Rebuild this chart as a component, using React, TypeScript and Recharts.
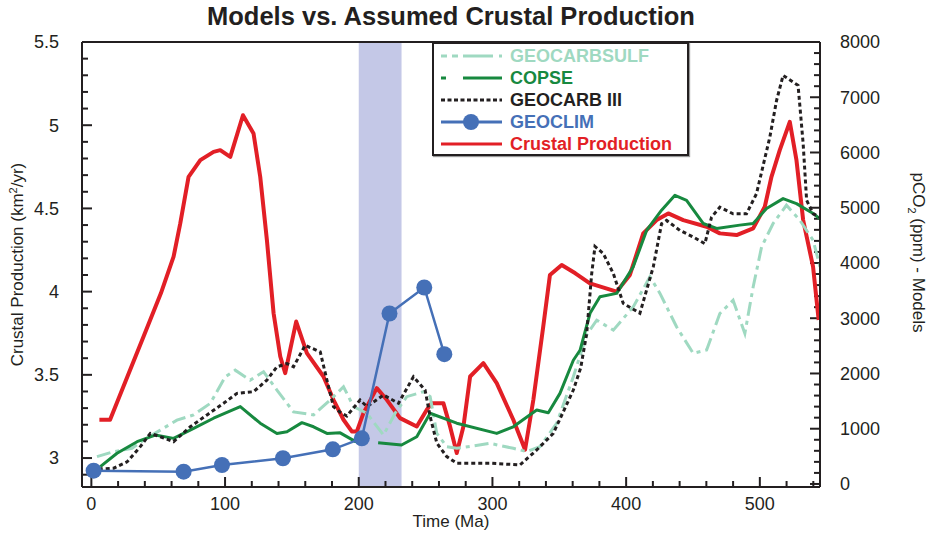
import React from 'react';
import { LineChart, Line, XAxis, YAxis, ReferenceArea, ReferenceLine, Legend, Label } from 'recharts';

const FONT = '"Liberation Sans", Arial, Helvetica, sans-serif';
const INK = '#231f20';
const RED = '#e21f26';
const GREEN = '#17893f';
const MINT = '#9fd9c1';
const BLACK = '#231f20';
const BLUE = '#4570b7';

type P = [number, number | null];

// Time (Ma) vs crustal production (km^2/yr) — left axis
const crustalProduction: P[] = [
  [6, 3.23], [14, 3.23], [27, 3.49], [38, 3.71], [52, 3.99], [61.5, 4.21], [66.5, 4.41], [72.7, 4.69],
  [81.5, 4.79], [91.4, 4.84], [96.4, 4.85], [103.9, 4.81], [113.4, 5.06], [121.3, 4.95], [126.3, 4.69],
  [131.3, 4.31], [136.3, 3.87], [141.3, 3.61], [145, 3.51], [153.2, 3.82], [161.2, 3.63], [173.6, 3.49],
  [181.1, 3.35], [188.6, 3.23], [194.8, 3.16], [198.6, 3.16], [203.5, 3.27], [213.5, 3.42], [221, 3.35],
  [230.9, 3.24], [243.4, 3.19], [250.9, 3.29], [254.6, 3.33], [263.3, 3.33], [268.3, 3.19], [273.3, 3.03],
  [278.3, 3.19], [283.3, 3.49], [293.2, 3.57], [303.2, 3.45], [315.6, 3.23], [324.4, 3.05], [330.6, 3.35],
  [338, 3.79], [343, 4.1], [351.8, 4.16], [362, 4.11], [372.9, 4.05], [392.9, 4.0], [402.8, 4.1],
  [412.8, 4.35], [422.8, 4.43], [431.5, 4.47], [442.7, 4.43], [460.2, 4.39], [470.1, 4.35], [482.6, 4.34],
  [495, 4.38], [503.7, 4.51], [508.7, 4.69], [514.9, 4.85], [522.4, 5.02], [527.4, 4.79], [532.4, 4.43],
  [539.8, 4.15], [544, 3.83],
];

// pCO2 (ppm) models — right axis
const geocarbSulf: P[] = [
  [4.2, 495], [16.7, 585], [30.4, 645], [39.1, 795], [51.6, 975], [64, 1155], [76.5, 1250], [89, 1460],
  [100.1, 1940], [107.6, 2060], [118.8, 1880], [128.8, 2030], [138.8, 1700], [151.2, 1305], [166.2, 1250],
  [178.6, 1520], [188.6, 1760], [196.1, 1400], [206.1, 1280], [218.5, 885], [227.2, 1280], [235.9, 1580],
  [248.4, 1670], [253.4, 1580], [258.4, 915], [265.8, 675], [273.3, 645], [298.2, 735], [315.6, 645],
  [325.6, 585], [335.5, 675], [348, 1095], [360.5, 1940], [370.5, 2700], [378, 2965], [390.4, 2785],
  [405.3, 3205], [417.8, 3750], [425.3, 3450], [437.7, 2845], [450.2, 2365], [460.2, 2425], [470.1, 3085],
  [480, 3325], [488.8, 2725], [495, 3565], [501.3, 4290], [509.9, 4715], [519.9, 5045], [529.9, 4775],
  [539.9, 4410], [545, 3930],
];

const copse: P[] = [
  [6.7, 315], [19.2, 555], [34.2, 765], [47.8, 885], [61.5, 825], [76.5, 1005], [91.4, 1190], [111.4, 1400],
  [126.3, 1100], [138.8, 915], [146.3, 945], [157.5, 1110], [166.2, 1035], [176.2, 915], [186.1, 925],
  [197.3, 770], [203, 760], [208, null], [214.5, 745], [232, 705], [243.4, 855], [253.4, 1280], [273.3, 1100],
  [303.2, 915], [315.6, 1035], [333.1, 1340], [341.8, 1290], [350.5, 1640], [360.5, 2240], [365.5, 2420],
  [373, 3090], [380.4, 3390], [392.9, 3450], [405.3, 3930], [415.3, 4590], [426.5, 4955], [436.5, 5225],
  [445.2, 5135], [457.6, 4715], [467.7, 4625], [485, 4685], [495, 4715], [505, 4985], [517.4, 5165],
  [527.4, 5075], [539.9, 4895], [545, 4800],
];

const geocarb3: P[] = [
  [5.5, 270], [16.7, 285], [26.7, 400], [36.6, 675], [44.1, 915], [51.6, 855], [61.5, 765], [74, 1035],
  [86.5, 1250], [98.9, 1460], [108.9, 1640], [121.3, 1670], [131.3, 1880], [138.8, 2120], [146.3, 2180],
  [151.2, 2120], [159.9, 2510], [171.2, 2390], [176.2, 1880], [181.1, 1400], [186, 1300], [191.1, 1230],
  [201, 1520], [206.1, 1400], [218.5, 1610], [229.7, 1460], [240.9, 1940], [249.6, 1700], [253.4, 1220],
  [258.4, 740], [265.8, 495], [273.3, 375], [298.2, 375], [320.6, 345], [333.1, 615], [345.5, 915],
  [360.5, 1700], [366, 2100], [370.5, 2725], [374.2, 3800], [376.7, 4300], [382.9, 4170], [390.4, 3810],
  [397.8, 3270], [410.3, 3090], [420.3, 3930], [426.5, 4710], [430.3, 4770], [440.2, 4590], [450.2, 4470],
  [458.9, 4350], [463.9, 4830], [470.1, 5010], [480, 4890], [490, 4890], [497.5, 5255], [507.5, 6280],
  [512.5, 6940], [517.4, 7395], [528.6, 7215], [532.4, 6160], [535, 5135], [539.9, 4890], [545, 4830],
];

const geoclim: P[] = [
  [1.7, 240], [69, 222], [97.7, 343], [143.3, 465], [180.6, 627], [202.3, 826], [223, 3086], [249, 3556], [264, 2350],
];

const shadedInterval: [number, number] = [200, 232];

const X_DOMAIN: [number, number] = [-7, 545];
const LEFT_DOMAIN: [number, number] = [2.826, 5.5];
const RIGHT_DOMAIN: [number, number] = [-55, 8000];

const xMajorTicks = [0, 100, 200, 300, 400, 500];
const xAllTicks: number[] = [];
for (let v = 0; v <= 540; v += 20) xAllTicks.push(v);
const leftMajorTicks = [3, 3.5, 4, 4.5, 5, 5.5];
const leftAllTicks: number[] = [];
for (let i = 29; i <= 55; i++) leftAllTicks.push(i / 10);
const rightMajorTicks = [0, 1000, 2000, 3000, 4000, 5000, 6000, 7000, 8000];
const rightAllTicks: number[] = [];
for (let v = 0; v <= 8000; v += 200) rightAllTicks.push(v);

const rows = (pts: P[]) => pts.map(([x, y]) => ({ x, y }));

const tickStyle = { fontSize: 18, fill: INK, fontFamily: FONT };

// inward tick marks drawn from the library's reference-line endpoints
const leftMark = (len: number) => (p: any) => {
  const x = Math.min(p.x1, p.x2);
  return <path d={`M${x},${p.y1}h${len}`} stroke={INK} strokeWidth={2} fill="none" />;
};
const rightMark = (len: number) => (p: any) => {
  const x = Math.max(p.x1, p.x2);
  return <path d={`M${x},${p.y1}h${-len}`} stroke={INK} strokeWidth={2} fill="none" />;
};
const bottomMark = (len: number) => (p: any) => {
  const y = Math.max(p.y1, p.y2);
  return <path d={`M${p.x1},${y}v${-len}`} stroke={INK} strokeWidth={2} fill="none" />;
};

const isHalf = (v: number) => Math.abs(v * 2 - Math.round(v * 2)) < 1e-6;

const LeftTitle = (props: any) => {
  const vb = props.viewBox || {};
  const x = (vb.x ?? 22) + 1;
  const y = (vb.y ?? 42) + (vb.height ?? 445) / 2;
  return (
    <text transform={`rotate(-90, ${x}, ${y})`} x={x} y={y} textAnchor="middle" fontSize={17} fill={INK} fontFamily={FONT}>
      Crustal Production (km<tspan dy={-6} fontSize={11}>2</tspan><tspan dy={6}>/yr)</tspan>
    </text>
  );
};

const RightTitle = (props: any) => {
  const vb = props.viewBox || {};
  const x = (vb.x ?? 820) + 93;
  const y = (vb.y ?? 42) + (vb.height ?? 445) / 2 - 12;
  return (
    <text transform={`rotate(90, ${x}, ${y})`} x={x} y={y} textAnchor="middle" fontSize={17} fill={INK} fontFamily={FONT}>
      pCO<tspan dy={5} fontSize={11}>2</tspan><tspan dy={-5}> (ppm) - Models</tspan>
    </text>
  );
};

const XTitle = (props: any) => {
  const vb = props.viewBox || {};
  const x = (vb.x ?? 82) + (vb.width ?? 738) / 2;
  return (
    <text x={x} y={527} textAnchor="middle" fontSize={17} fill={INK} fontFamily={FONT}>Time (Ma)</text>
  );
};

const legendItems = [
  { name: 'GEOCARBSULF', color: MINT, dash: '6 5 6 5 30', dot: false },
  { name: 'COPSE', color: GREEN, dash: '5 17 40', dot: false },
  { name: 'GEOCARB III', color: BLACK, dash: '4 2.5', dot: false },
  { name: 'GEOCLIM', color: BLUE, dash: undefined, dot: true },
  { name: 'Crustal Production', color: RED, dash: undefined, dot: false },
];

const LegendBox = () => (
  <div
    style={{
      position: 'relative', width: 257, height: 114, boxSizing: 'border-box',
      border: `2px solid ${INK}`, background: '#fff', boxShadow: '1px 1px 1px #999',
    }}
  >
    {legendItems.map((it, i) => (
      <div key={it.name} style={{ position: 'absolute', left: 6, top: 1 + i * 22, height: 22, display: 'flex', alignItems: 'center' }}>
        <svg width={64} height={22} style={{ display: 'block' }}>
          <line x1={1} x2={62} y1={11} y2={11} stroke={it.color} strokeWidth={3} strokeDasharray={it.dash} />
          {it.dot && <circle cx={31} cy={11} r={8} fill={it.color} />}
        </svg>
        <span
          style={{
            marginLeft: 6, fontFamily: FONT, fontWeight: 'bold', fontSize: 18, lineHeight: '22px',
            color: it.color, whiteSpace: 'nowrap',
          }}
        >
          {it.name}
        </span>
      </div>
    ))}
  </div>
);

export default function App() {
  return (
    <div style={{ position: 'absolute', left: 0, top: 0, width: 928, height: 533, background: '#fff' }}>
      <div
        style={{
          position: 'absolute', left: 82, top: 4, width: 738, textAlign: 'center', fontFamily: FONT,
          fontWeight: 'bold', fontSize: 25.5, lineHeight: '25px', color: INK, zIndex: 2,
        }}
      >
        Models vs. Assumed Crustal Production
      </div>
      <LineChart width={928} height={533} margin={{ top: 42, right: 48, left: 22, bottom: 0 }}>
        <XAxis
          xAxisId="main" dataKey="x" type="number" domain={X_DOMAIN} ticks={xMajorTicks} interval={0}
          tick={tickStyle} tickSize={0} tickMargin={10} tickLine={false} height={46}
          axisLine={{ stroke: INK, strokeWidth: 2 }} allowDataOverflow
        >
          <Label content={<XTitle />} />
        </XAxis>
        <YAxis
          yAxisId="left" type="number" domain={LEFT_DOMAIN} ticks={leftMajorTicks} interval={0}
          tick={tickStyle} tickSize={0} tickMargin={23} tickLine={false} width={60}
          tickFormatter={(v: number) => String(v)}
          axisLine={{ stroke: INK, strokeWidth: 2 }} allowDataOverflow
        >
          <Label content={<LeftTitle />} />
        </YAxis>
        <YAxis
          yAxisId="right" orientation="right" type="number" domain={RIGHT_DOMAIN} ticks={rightMajorTicks} interval={0}
          tick={tickStyle} tickSize={0} tickMargin={20} tickLine={false} width={60}
          axisLine={{ stroke: INK, strokeWidth: 2 }} allowDataOverflow
        >
          <Label content={<RightTitle />} />
        </YAxis>
        <ReferenceLine xAxisId="main" yAxisId="left" y={5.5} stroke={INK} strokeWidth={2} />
        {leftAllTicks.map((v) => (
          <ReferenceLine key={`lt${v}`} xAxisId="main" yAxisId="left" y={v} shape={leftMark(isHalf(v) ? 10 : 6)} />
        ))}
        {rightAllTicks.map((v) => (
          <ReferenceLine key={`rt${v}`} xAxisId="main" yAxisId="right" y={v} shape={rightMark(v % 1000 === 0 ? 10 : 6)} />
        ))}
        {xAllTicks.map((v) => (
          <ReferenceLine key={`xt${v}`} xAxisId="main" yAxisId="left" x={v} shape={bottomMark(v % 100 === 0 ? 10 : 6)} />
        ))}
        <Line
          xAxisId="main" yAxisId="left" data={rows(crustalProduction)} dataKey="y" name="Crustal Production" stroke={RED}
          strokeWidth={4} dot={false} activeDot={false} isAnimationActive={false} strokeLinejoin="round"
        />
        <Line
          xAxisId="main" yAxisId="right" data={rows(geocarbSulf)} dataKey="y" name="GEOCARBSULF" stroke={MINT}
          strokeWidth={3} strokeDasharray="14 5 4 5" dot={false} activeDot={false} isAnimationActive={false}
        />
        <Line
          xAxisId="main" yAxisId="right" data={rows(copse)} dataKey="y" name="COPSE" stroke={GREEN}
          strokeWidth={3} dot={false} activeDot={false} isAnimationActive={false} strokeLinejoin="round"
        />
        <Line
          xAxisId="main" yAxisId="right" data={rows(geocarb3)} dataKey="y" name="GEOCARB III" stroke={BLACK}
          strokeWidth={3} strokeDasharray="4 3" dot={false} activeDot={false} isAnimationActive={false}
        />
        <ReferenceArea
          xAxisId="main" yAxisId="left" x1={shadedInterval[0]} x2={shadedInterval[1]} fill="#8a91cf" fillOpacity={0.5}
          stroke="none" ifOverflow="hidden"
        />
        <Line
          xAxisId="main" yAxisId="right" data={rows(geoclim)} dataKey="y" name="GEOCLIM" stroke={BLUE} strokeWidth={2.5}
          dot={{ r: 8, fill: BLUE, stroke: BLUE, strokeWidth: 0 }} activeDot={false} isAnimationActive={false}
        />
        <Legend
          layout="horizontal" verticalAlign="middle" align="center"
          content={() => <LegendBox />}
          wrapperStyle={{ left: 432, top: 42, width: 257, height: 114 }}
        />
      </LineChart>
    </div>
  );
}
